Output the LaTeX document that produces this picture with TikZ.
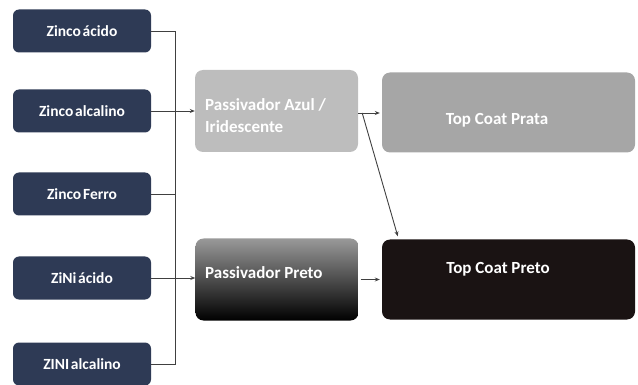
\documentclass[tikz,border=0pt]{standalone}
\usepackage{fontspec}
\setmainfont{Carlito}
\usetikzlibrary{arrows.meta,calc}
\definecolor{navy}{HTML}{2E3A55}
\definecolor{lightgrey}{HTML}{BDBDBD}
\definecolor{midgrey}{HTML}{A6A6A6}
\definecolor{nearblack}{HTML}{1A1313}
\definecolor{wire}{HTML}{404040}
% tight word spacing for the source labels
\newcommand\srclabelfont{\bfseries\fontsize{15.5}{18}\selectfont\spaceskip 1.8pt\relax}
\tikzset{
  source/.style={draw=none, fill=navy, rounded corners=6pt, minimum width=138pt,
    minimum height=43pt, text=white, font=\srclabelfont, inner sep=0pt},
  stagebox/.style={draw=none, rounded corners=8pt, minimum width=163pt,
    minimum height=82pt, inner sep=0pt},
  coatbox/.style={draw=none, rounded corners=8pt, minimum width=253pt,
    minimum height=80pt, inner sep=0pt},
  boxlabel/.style={text=white, font=\bfseries\fontsize{17}{22}\selectfont,
    inner sep=0pt},
  wireline/.style={draw=wire, line width=0.9pt},
  flow/.style={wireline, -{Stealth[length=5pt,width=4pt]}}
}
\begin{document}
\begin{tikzpicture}[x=1pt,y=-1pt]
\useasboundingbox (0,0) rectangle (638,385);

% source processes
\node[source] (b1) at (82,31)  {Zinco ácido};
\node[source] (b2) at (82,111) {Zinco alcalino};
\node[source] (b3) at (82,194) {Zinco Ferro};
\node[source] (b4) at (82,278) {ZiNi ácido};
\node[source] (b5) at (82,364) {ZINI alcalino};

% passivation stage
\node[stagebox, fill=lightgrey] (pa) at (276.5,111) {};
\node[boxlabel, anchor=west, align=left] (patxt) at (205,115.5)
  {Passivador Azul /\\Iridescente};
\node[stagebox, top color=gray!80, middle color=black, bottom color=black]
  (pp) at (277,279.5) {};
\node[boxlabel, anchor=west] (pptxt) at (205,273) {Passivador Preto};

% top coats
\node[coatbox, fill=midgrey] (tcs) at (508.5,112.5) {};
\node[boxlabel] (tcstxt) at (497,120) {Top Coat Prata};
\node[coatbox, fill=nearblack] (tcb) at (508.5,279.5) {};
\node[boxlabel] (tcbtxt) at (498,269) {Top Coat Preto};

% collecting bus
\coordinate (bt) at (175,31);
\coordinate (bb) at (175,364);
\draw[wireline] (b1.east) -- (bt) -- (bb) -- (b5.east);
\draw[wireline] (b3.east) -- (b3.east -| bt);

% flows into the passivators
\draw[flow] (b2.east) -- (pa.west);
\draw[flow] (b4.east -| bt) -- (b4.east -| pp.west);
\draw[wireline] (b4.east) -- (b4.east -| bt);

% flows into the top coats
\coordinate (split) at ($(pa.east)+(4,2)$);
\draw[flow] ($(pa.east)+(0,2)$) -- ($(pa.east -| tcs.west)+(-2,2)$);
\draw[flow] (split) -- ($(tcb.north west)+(16,-3)$);
\draw[flow] ($(pp.east)+(2,0)$) -- ($(pp.east -| tcb.west)+(-2,0)$);
\end{tikzpicture}
\end{document}
